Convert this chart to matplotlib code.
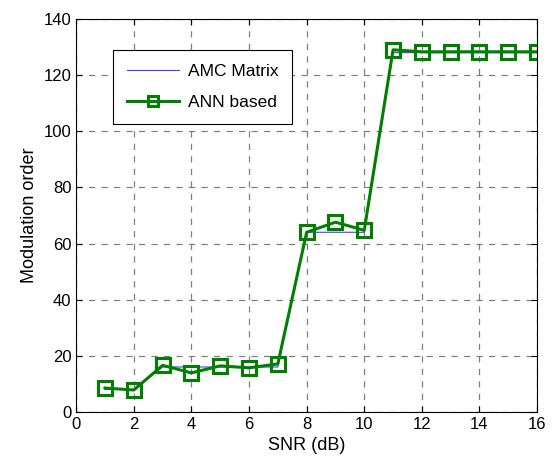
import matplotlib
matplotlib.use("Agg")
import matplotlib.pyplot as plt

snr = list(range(1, 17))
amc_matrix = [8, 8, 16, 16, 16, 16, 16, 64, 64, 64, 128, 128, 128, 128, 128, 128]
ann_based = [8.5, 7.8, 16.6, 13.9, 16.4, 15.7, 17.1, 64, 67.6, 64.7, 129, 128.3, 128.3, 128.3, 128.3, 128.3]

x_ticks = list(range(0, 17, 2))
y_ticks = list(range(0, 141, 20))

plt.rcParams['font.family'] = ['Liberation Sans', 'DejaVu Sans']

fig = plt.figure(figsize=(5.52, 4.74), dpi=100)
ax = fig.add_axes([0.138, 0.131, 0.835, 0.829])

ax.plot(snr, amc_matrix, color='#4040ff', lw=0.8, label='AMC Matrix')
ax.plot(snr, ann_based, color='#007f00', lw=2.2, marker='s', markersize=10,
        markerfacecolor='none', markeredgewidth=2.2, label='ANN based')

ax.set_xlim(0, 16)
ax.set_ylim(0, 140)
ax.set_xticks(x_ticks)
ax.set_yticks(y_ticks)
ax.tick_params(direction='in', top=True, right=True, labelsize=12, length=4)
ax.grid(True, linestyle=(0, (5, 5)), color='#808080', lw=0.9)
for s in ax.spines.values():
    s.set_linewidth(0.8)

ax.set_xlabel('SNR (dB)', fontsize=13)
ax.set_ylabel('Modulation order', fontsize=13)

leg = ax.legend(loc='upper left', bbox_to_anchor=(0.08, 0.921), borderaxespad=0,
                fontsize=12.5, fancybox=False, edgecolor='black', framealpha=1,
                handlelength=3.0, handletextpad=0.5, borderpad=0.8,
                labelspacing=0.9, markerscale=0.75)
leg.get_frame().set_linewidth(0.8)

fig.savefig('out.png', dpi=100)
